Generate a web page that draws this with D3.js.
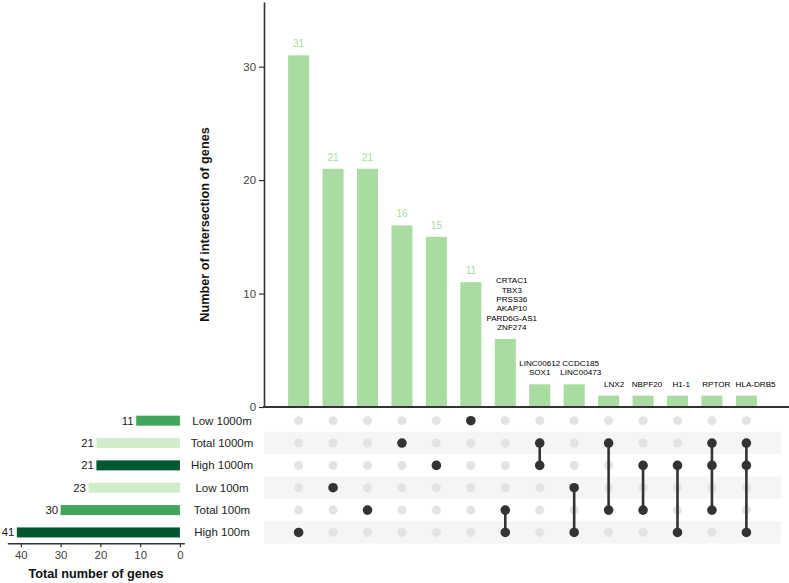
<!DOCTYPE html>
<html><head><meta charset="utf-8">
<script src="https://cdn.jsdelivr.net/npm/d3@7"></script>
<style>
body{margin:0;background:#fff;}
svg{font-family:"Liberation Sans",Arial,sans-serif;}
</style></head>
<body><svg id="c" width="789" height="583"></svg>
<script>
// ---- data ----
const sets = ["Low 1000m","Total 1000m","High 1000m","Low 100m","Total 100m","High 100m"];
const setSizes = [11,21,21,23,30,41];
const setColors = ["#3fa65b","#d0ecca","#00582f","#d0ecca","#3fa65b","#00582f"];
const intersections = [[5],[3],[4],[1],[2],[0],[4,5],[1,2],[3,5],[1,4],[2,4],[2,5],[1,2,4],[1,2,5]];
const counts = [31,21,21,16,15,11,6,2,2,1,1,1,1,1];
const geneLabels = [null,null,null,null,null,null,
  ["CRTAC1","TBX3","PRSS36","AKAP10","PARD6G-AS1","ZNF274"],
  ["LINC00612","SOX1"],["CCDC185","LINC00473"],["LNX2"],["NBPF20"],["H1-1"],["RPTOR"],["HLA-DRB5"]];
const yTicks = [0,10,20,30];
const setTicks = [0,10,20,30,40];
// horizontal nudges of gene labels (label repel, px)
const labelNudge = [0,0,0,0,0,0,6.5,0,6.5,5.5,4,3.8,4.3,9.2];

const barColor = "#a8dca0";
const svg = d3.select("#c");

const x = d3.scaleBand().domain(d3.range(counts.length)).range([264,781]).paddingInner(0.39).paddingOuter(0.7);
const y = d3.scaleLinear().domain([0,35.7]).range([407,2]);
const row = d3.scaleBand().domain(sets).range([409.5,543.6]);
const sx = d3.scaleLinear().domain([-1.1,43.4]).range([184.3,7.3]);

// stripes
svg.append("g").selectAll("rect").data(sets.filter((d,i)=>i%2===1)).join("rect")
  .attr("x",264).attr("width",517).attr("y",d=>row(d)).attr("height",row.bandwidth()).attr("fill","#f5f5f5");

// main bars
svg.append("g").selectAll("rect").data(counts).join("rect")
  .attr("x",(d,i)=>x(i)).attr("width",x.bandwidth())
  .attr("y",d=>y(d)).attr("height",d=>y(0)-y(d)).attr("fill",barColor);

// numeric labels
svg.append("g").selectAll("text").data(counts.map((c,i)=>({c,i})).filter(d=>!geneLabels[d.i])).join("text")
  .attr("x",d=>x(d.i)+x.bandwidth()/2).attr("y",d=>y(d.c)-8)
  .attr("text-anchor","middle").attr("font-size","10px").attr("fill",barColor).text(d=>d.c);

// gene labels
const gl = svg.append("g");
counts.forEach((c,i)=>{
  const g = geneLabels[i]; if(!g) return;
  const n = g.length;
  g.forEach((t,k)=>{
    gl.append("text").attr("x",x(i)+x.bandwidth()/2+labelNudge[i]).attr("y",y(c)-9-(n-1-k)*9.33)
      .attr("text-anchor","middle").attr("font-size","8.1px").attr("fill","#000").text(t);
  });
});

// y axis
const ya = svg.append("g").attr("transform","translate(264,0)")
  .call(d3.axisLeft(y).tickValues(yTicks).tickSize(5).tickSizeOuter(0));
ya.select(".domain").attr("stroke","#333").attr("stroke-width",1.6);
ya.selectAll(".tick line").attr("stroke","#333").attr("stroke-width",1.2);
ya.selectAll(".tick text").attr("font-size","11.4px").attr("fill","#444").attr("x",-8).attr("font-family","Liberation Sans,Arial,sans-serif");
// x baseline
svg.append("line").attr("x1",263).attr("x2",789).attr("y1",y(0)).attr("y2",y(0)).attr("stroke","#333").attr("stroke-width",2);

svg.append("text").attr("transform",`translate(209,${(y(0)+y(35.7))/2+20}) rotate(-90)`)
  .attr("text-anchor","middle").attr("font-size","12.7px").attr("font-weight","bold").attr("fill","#111")
  .text("Number of intersection of genes");

// matrix dots
const cx = i=>x(i)+x.bandwidth()/2;
const cy = s=>row(sets[s])+row.bandwidth()/2;
const mg = svg.append("g");
intersections.forEach((inter,i)=>{
  sets.forEach((s,j)=>{
    if(!inter.includes(j)) mg.append("circle").attr("cx",cx(i)).attr("cy",cy(j)).attr("r",4.5).attr("fill","#e3e3e3");
  });
});
intersections.forEach((inter,i)=>{
  if(inter.length>1){
    mg.append("line").attr("x1",cx(i)).attr("x2",cx(i))
      .attr("y1",cy(d3.min(inter))).attr("y2",cy(d3.max(inter)))
      .attr("stroke","#333").attr("stroke-width",2.6);
  }
  inter.forEach(j=>mg.append("circle").attr("cx",cx(i)).attr("cy",cy(j)).attr("r",4.8).attr("fill","#333"));
});

// set labels
svg.append("g").selectAll("text").data(sets).join("text")
  .attr("x",222).attr("y",d=>row(d)+row.bandwidth()/2+4)
  .attr("text-anchor","middle").attr("font-size","11.5px").attr("fill","#222").text(d=>d);

// set bars
svg.append("g").selectAll("rect").data(setSizes).join("rect")
  .attr("x",d=>sx(d)).attr("width",d=>sx(0)-sx(d))
  .attr("y",(d,i)=>row(sets[i])+row.bandwidth()/2-5).attr("height",10)
  .attr("fill",(d,i)=>setColors[i]);
svg.append("g").selectAll("text").data(setSizes).join("text")
  .attr("x",d=>sx(d)-2.5).attr("y",(d,i)=>row(sets[i])+row.bandwidth()/2+4)
  .attr("text-anchor","end").attr("font-size","11.4px").attr("fill","#222").text(d=>d);

// set axis
const sa = svg.append("g").attr("transform","translate(0,543.3)")
  .call(d3.axisBottom(sx).tickValues(setTicks).tickSize(4).tickSizeOuter(0));
sa.select(".domain").attr("stroke","#333").attr("stroke-width",1.4);
sa.selectAll(".tick line").attr("stroke","#333").attr("stroke-width",1.2);
sa.selectAll(".tick text").attr("font-size","11.4px").attr("fill","#444").attr("y",8).attr("font-family","Liberation Sans,Arial,sans-serif");

svg.append("text").attr("x",96).attr("y",578).attr("text-anchor","middle")
  .attr("font-size","12.7px").attr("font-weight","bold").attr("fill","#111").text("Total number of genes");
</script></body></html>
